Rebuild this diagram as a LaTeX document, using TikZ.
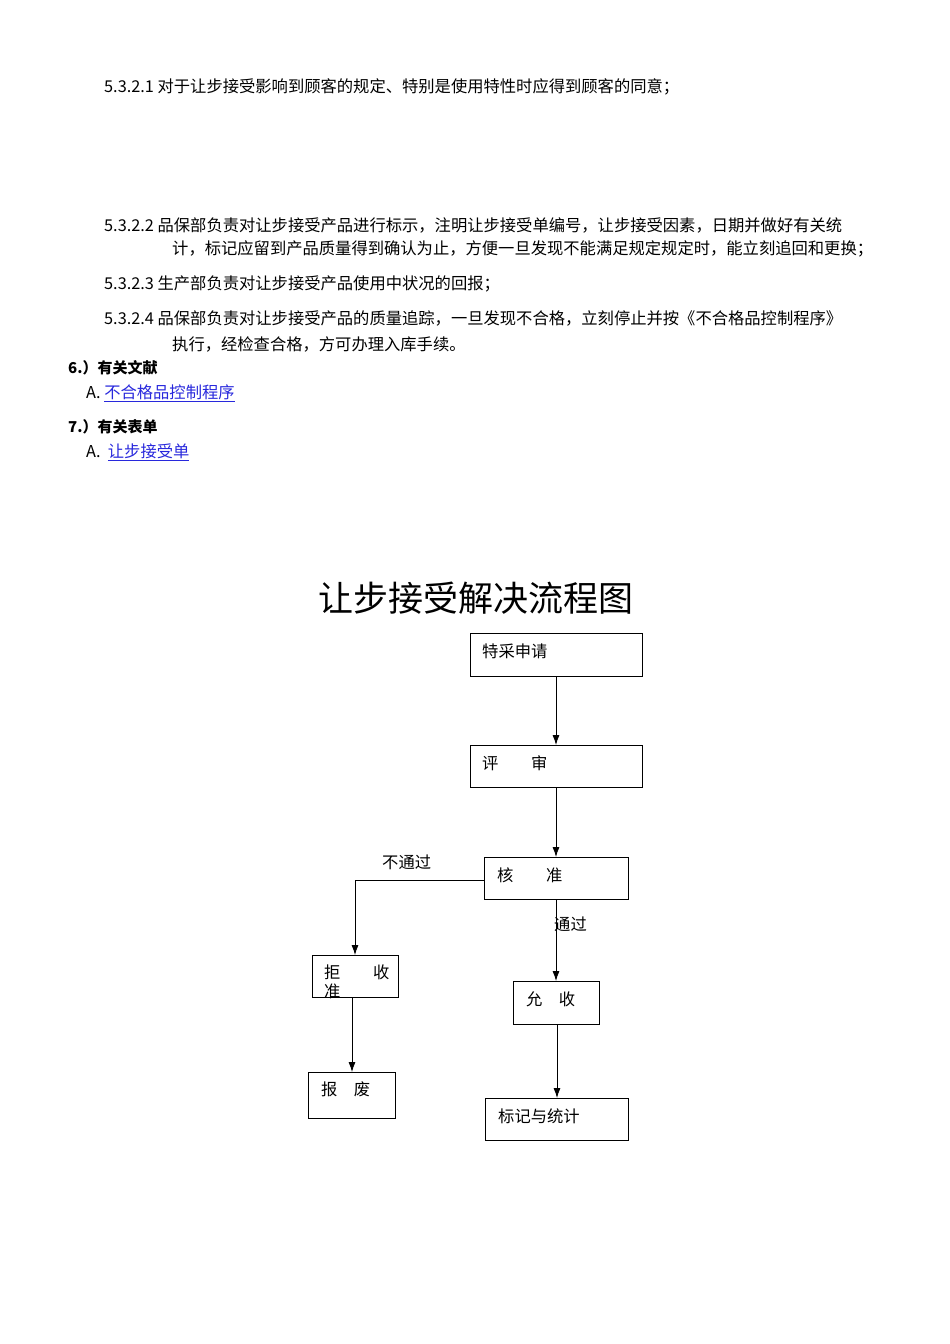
\documentclass[tikz,border=0pt]{standalone}
\usepackage{fontspec}
\setmainfont{Noto Sans CJK SC}
\usetikzlibrary{arrows.meta}
\definecolor{linkblue}{RGB}{40,40,220}
\begin{document}
\begin{tikzpicture}[x=1pt,y=-1pt,
  txt/.style={anchor=west,inner sep=0pt,font=\fontsize{16.3}{18}\selectfont},
  box/.style={draw,line width=0.8pt},
  arr/.style={-{Latex[length=10pt,width=7pt]},line width=0.8pt}]
\useasboundingbox (0,0) rectangle (950,1344);
\node[txt] (l1) at (104,87) {5.3.2.1 对于让步接受影响到顾客的规定、特别是使用特性时应得到顾客的同意；};
\node[txt] (l2) at (104,225) {5.3.2.2 品保部负责对让步接受产品进行标示，注明让步接受单编号，让步接受因素，日期并做好有关统};
\node[txt] (l2b) at (172,249) {计，标记应留到产品质量得到确认为止，方便一旦发现不能满足规定规定时，能立刻追回和更换；};
\node[txt] (l3) at (104,284) {5.3.2.3 生产部负责对让步接受产品使用中状况的回报；};
\node[txt] (l4) at (104,318) {5.3.2.4 品保部负责对让步接受产品的质量追踪，一旦发现不合格，立刻停止并按《不合格品控制程序》};
\node[txt] (l4b) at (172,344) {执行，经检查合格，方可办理入库手续。};
\node[txt,font=\fontsize{15}{17}\selectfont\bfseries] (h6) at (68,368) {6.）有关文献};
\node[txt] (a6) at (86,393) {A. \textcolor{linkblue}{\underline{不合格品控制程序}}};
\node[txt,font=\fontsize{15}{17}\selectfont\bfseries] (h7) at (68,427) {7.）有关表单};
\node[txt] (a7) at (86,452) {A.\ \ \textcolor{linkblue}{\underline{让步接受单}}};
\node[font=\fontsize{35}{38}\selectfont,inner sep=0pt] (title) at (476,598) {让步接受解决流程图};

\draw[box] (470,633) rectangle (642,676); \node[txt] at (482,651) {特采申请};
\coordinate (b1b) at (556,676);
\draw[box] (470,745) rectangle (642,787); \node[txt] at (482,763) {评\hspace{2em}审};
\coordinate (b2t) at (556,745); \coordinate (b2b) at (556,787);
\draw[box] (484,857) rectangle (628,899); \node[txt] at (497,875) {核\hspace{2em}准};
\coordinate (b3t) at (556,857); \coordinate (b3b) at (556,899); \coordinate (b3l) at (484,880);
\draw[box] (312,955) rectangle (398,997);
\node[txt] at (324,972) {拒\hspace{2em}收}; \node[txt] at (324,991) {准};
\coordinate (b4t) at (355,955); \coordinate (b4b) at (352,997);
\draw[box] (513,981) rectangle (599,1024); \node[txt] at (526,999) {允\hspace{1em}收};
\coordinate (b5t) at (556,981); \coordinate (b5b) at (557,1024);
\draw[box] (308,1072) rectangle (395,1118); \node[txt] at (321,1089) {报\hspace{1em}废};
\coordinate (b6t) at (352,1072);
\draw[box] (485,1098) rectangle (628,1140); \node[txt] at (498,1116) {标记与统计};
\coordinate (b7t) at (557,1098);

\draw[arr] (b1b) -- (b2t);
\draw[arr] (b2b) -- (b3t);
\draw[arr] (b3l) -- (355,880) -- (b4t);
\node[txt] at (382,862) {不通过};
\draw[arr] (b3b) -- (b5t);
\node[txt] at (554,924) {通过};
\draw[arr] (b4b) -- (b6t);
\draw[arr] (b5b) -- (b7t);
\end{tikzpicture}
\end{document}
